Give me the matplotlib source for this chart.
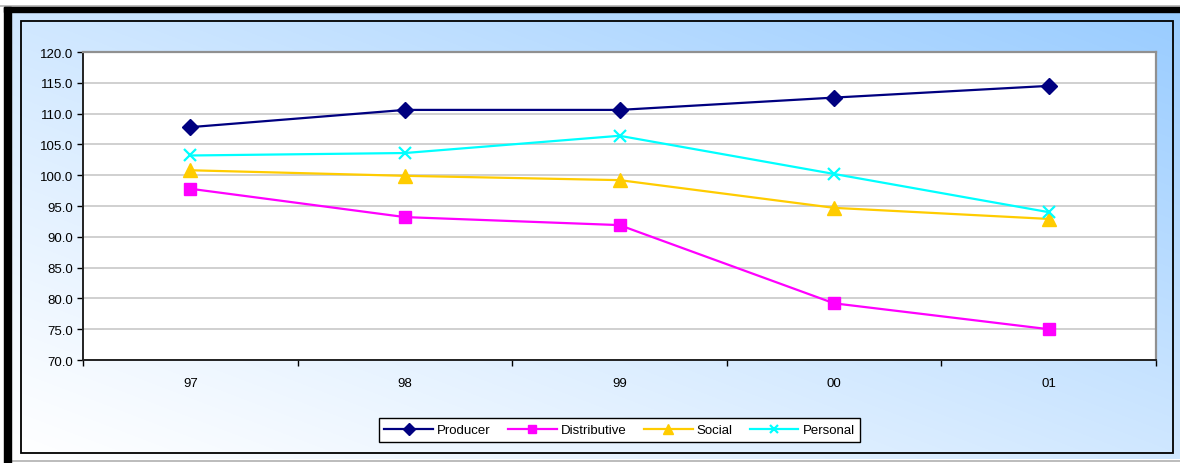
import numpy as np
import matplotlib
matplotlib.use("Agg")
import matplotlib.pyplot as plt
from matplotlib.patches import Rectangle
from matplotlib.ticker import FixedLocator, FormatStrFormatter

plt.rcParams['font.family'] = ['Liberation Sans', 'DejaVu Sans']

# index values by year
years = ['97', '98', '99', '00', '01']
producer = [107.8, 110.6, 110.6, 112.6, 114.5]
distributive = [97.8, 93.2, 91.9, 79.2, 75.0]
social = [100.8, 99.9, 99.2, 94.7, 92.9]
personal = [103.2, 103.6, 106.4, 100.2, 94.0]

W, H = 1180, 464
fig = plt.figure(figsize=(W / 100, H / 100), dpi=100)
fig.patch.set_facecolor('white')

# background: diagonal white -> light blue gradient with frame
bg = fig.add_axes([0, 0, 1, 1])
bg.set_xlim(0, W)
bg.set_ylim(H, 0)
bg.axis('off')
xx, yy = np.meshgrid(np.linspace(0, 1, 300), np.linspace(0, 1, 120))
t = np.clip((xx + (1 - yy)) / 2, 0, 1) ** 1.1
c0 = np.array([1.0, 1.0, 1.0])
c1 = np.array([0x99, 0xCC, 0xFF]) / 255
img = c0 + (c1 - c0) * t[..., None]
bg.imshow(img, extent=[10, W, 460, 12], aspect='auto', interpolation='bilinear', zorder=0)
bg.add_patch(Rectangle((4, 8), 7, H - 8, color='black', zorder=2))
bg.add_patch(Rectangle((4, 8), W - 4, 4.5, color='black', zorder=2))
bg.plot([0, W], [6.5, 6.5], color='#b0b0b0', lw=1.2, zorder=1)
bg.plot([10, W], [461.5, 461.5], color='#b0b0b0', lw=1.2, zorder=1)
bg.add_patch(Rectangle((21, 22), 1173 - 21, 454 - 22, fill=False,
                       edgecolor='black', lw=1.3, zorder=3))

# plot area
L, R, T, B = 83, 1156, 53, 361
ax = fig.add_axes([L / W, (H - B) / H, (R - L) / W, (B - T) / H])
ax.set_facecolor('white')
x = np.arange(len(years))

ax.plot(x, producer, color='#000080', lw=1.6, marker='D', ms=8.5, label='Producer', zorder=5)
ax.plot(x, distributive, color='#FF00FF', lw=1.6, marker='s', ms=9, label='Distributive', zorder=5)
ax.plot(x, social, color='#FFCC00', lw=1.6, marker='^', ms=10, label='Social', zorder=5)
ax.plot(x, personal, color='#00FFFF', lw=1.6, marker='x', ms=9, mew=1.6, label='Personal', zorder=5)

ax.set_xlim(-0.5, len(years) - 0.5)
ax.set_ylim(70, 120)
ax.set_yticks(np.arange(70, 120.1, 5))
ax.yaxis.set_major_formatter(FormatStrFormatter('%.1f'))
ax.yaxis.grid(True, color='#c8c8c8', lw=1.2)
ax.set_axisbelow(True)

ax.set_xticks(x)
ax.set_xticklabels(years)
ax.xaxis.set_minor_locator(FixedLocator(np.arange(-0.5, len(years), 1)))
ax.tick_params(axis='x', which='major', length=0, pad=12, labelsize=9.5)
ax.tick_params(axis='x', which='minor', length=4, width=1, direction='out', color='black')
ax.tick_params(axis='y', length=4, width=1, direction='out', pad=3, labelsize=9.5)

for s in ('left', 'bottom'):
    ax.spines[s].set_color('#222222')
    ax.spines[s].set_linewidth(1.4)
for s in ('top', 'right'):
    ax.spines[s].set_color('#909090')
    ax.spines[s].set_linewidth(1.6)

leg = fig.legend(loc='center', bbox_to_anchor=(619.5 / W, (H - 431) / H), ncol=4,
                 fontsize=9.5, frameon=True, fancybox=False, framealpha=1,
                 edgecolor='black', handlelength=3.7, handletextpad=0.3,
                 columnspacing=1.3, borderpad=0.45, markerscale=0.7)
leg.get_frame().set_linewidth(1.0)

fig.savefig('out.png', dpi=100)
